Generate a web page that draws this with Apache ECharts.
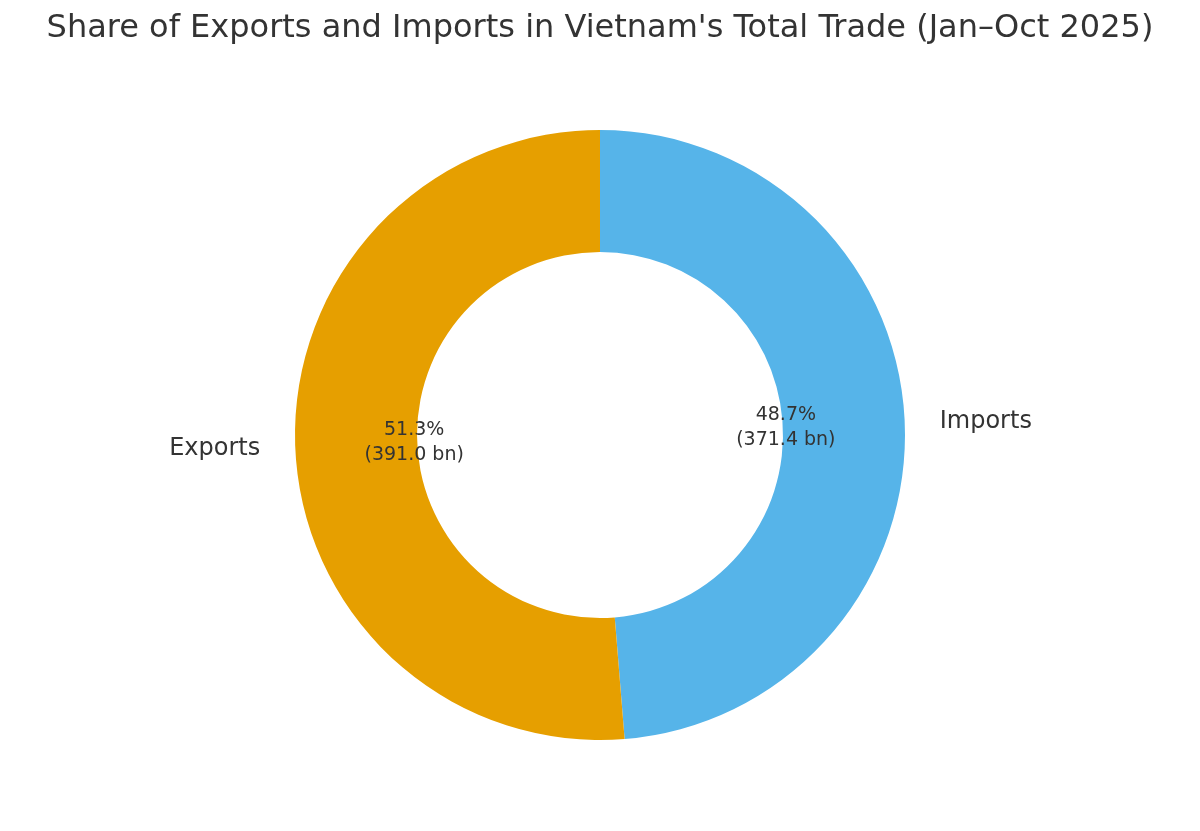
<!DOCTYPE html>
<html><head><meta charset="utf-8">
<script src="https://cdn.jsdelivr.net/npm/echarts@6/dist/echarts.min.js"></script>
<style>html,body{margin:0;background:#fff}#c{width:1200px;height:831px}</style>
</head><body><div id="c"></div>
<script>
const categories = ["Imports", "Exports"];
const values = [371.4, 391.0];
const colors = ["#56B4E9", "#E69F00"];
const total = values.reduce((a, b) => a + b, 0);
const data = categories.map((n, i) => ({ name: n, value: values[i], itemStyle: { color: colors[i] } }));
const font = "DejaVu Sans";
const chart = echarts.init(document.getElementById('c'));
chart.setOption({
  animation: false,
  title: { text: "Share of Exports and Imports in Vietnam's Total Trade (Jan–Oct 2025)", left: 'center', top: 8,
    textStyle: { fontFamily: font, fontSize: 32, fontWeight: 'normal', color: '#333' } },
  series: [
    { type: 'pie', center: [600, 435], radius: [183, 305], startAngle: 90, clockwise: true, silent: true,
      data: data,
      label: { show: true, position: 'outside', fontFamily: font, fontSize: 24, color: '#333', formatter: '{b}' },
      labelLine: { show: false, length: 30, length2: 0 } },
    { type: 'pie', center: [600, 435], radius: [0, 366], startAngle: 90, clockwise: true, silent: true,
      data: data.map(d => ({ name: d.name, value: d.value, itemStyle: { color: 'rgba(0,0,0,0)' } })),
      label: { show: true, position: 'inside', fontFamily: font, fontSize: 19, color: '#333', lineHeight: 25,
        formatter: p => (p.value / total * 100).toFixed(1) + '%\n(' + p.value.toFixed(1) + ' bn)' },
      labelLine: { show: false } }
  ]
});
</script></body></html>
